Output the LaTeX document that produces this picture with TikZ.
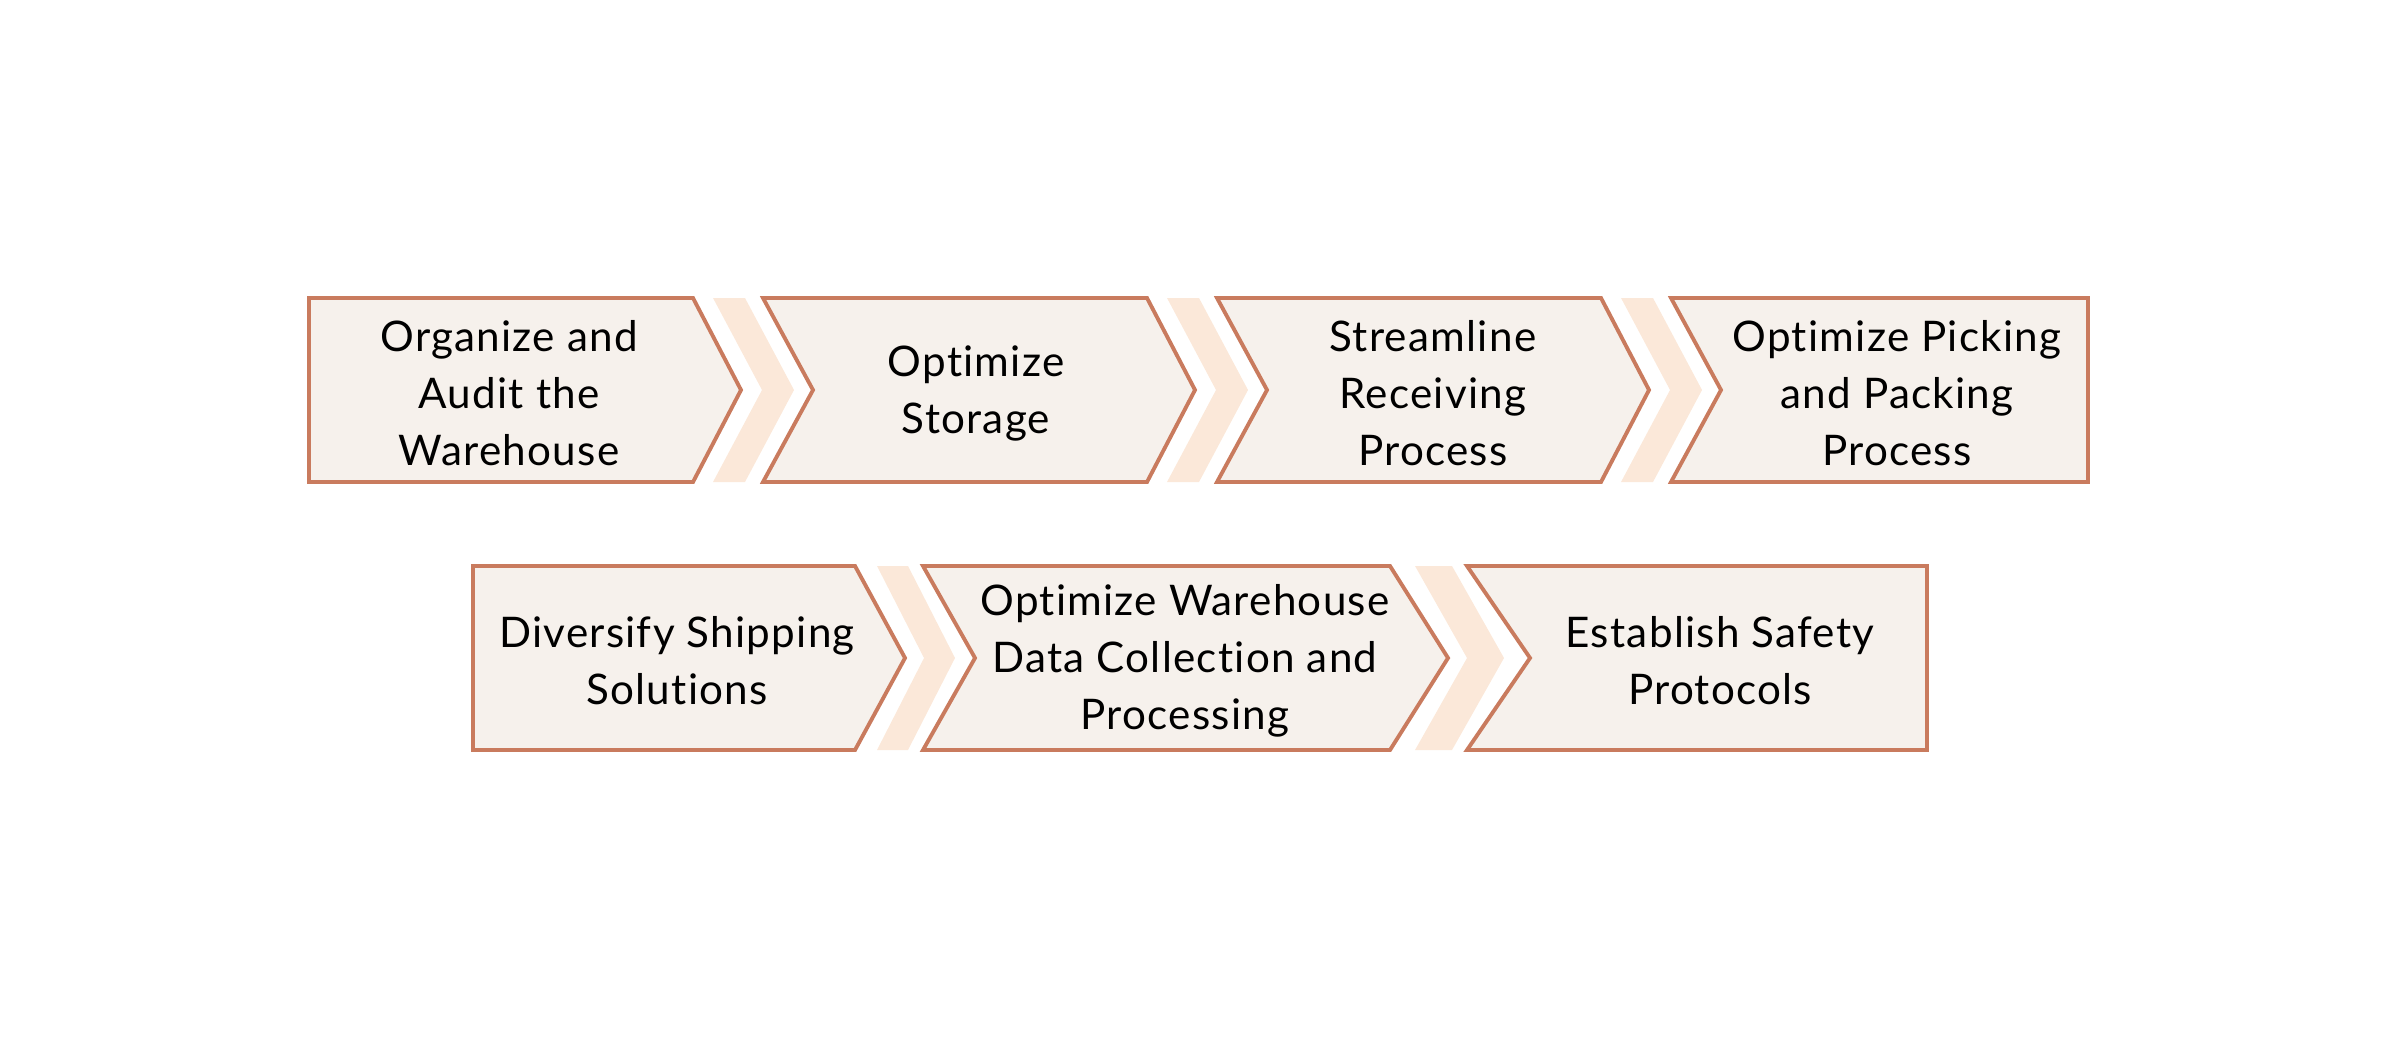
\documentclass[tikz,border=0pt]{standalone}
\usepackage{fontspec}
\setmainfont{Lato}[LetterSpace=3, Ligatures=NoCommon]
\definecolor{stepline}{HTML}{C97B5E}
\definecolor{stepfill}{HTML}{F6F1EC}
\definecolor{chevfill}{HTML}{FBE8D9}

\def \rowTop {7.52}
\def \rowMid {6.60}
\def \rowBot {5.68}
\def \rowTopB {4.84}
\def \rowMidB {3.92}
\def \rowBotB {3.00}
\def \textMid {6.57}
\def \textMidB {3.89}

\tikzset{
  stepshape/.style={draw=stepline, fill=stepfill, line width=1.1pt, line join=miter},
  chevshape/.style={fill=chevfill},
  steptext/.style={align=center, text=black, font=\fontsize{12}{16.2}\selectfont}
}

\begin{document}
\begin{tikzpicture}
         \useasboundingbox (0,0) rectangle (24,10.5);
         % first row
         \filldraw[stepshape] (3.09,\rowTop) -- (6.93,\rowTop) -- (7.41,\rowMid) -- (6.93,\rowBot) -- (3.09,\rowBot) -- cycle;
         \fill[chevshape] (7.13,\rowTop) -- (7.45,\rowTop) -- (7.94,\rowMid) -- (7.45,\rowBot) -- (7.13,\rowBot) -- (7.62,\rowMid) -- cycle;
         \filldraw[stepshape] (7.63,\rowTop) -- (11.47,\rowTop) -- (11.95,\rowMid) -- (11.47,\rowBot) -- (7.63,\rowBot) -- (8.13,\rowMid) -- cycle;
         \fill[chevshape] (11.67,\rowTop) -- (11.99,\rowTop) -- (12.48,\rowMid) -- (11.99,\rowBot) -- (11.67,\rowBot) -- (12.16,\rowMid) -- cycle;
         \filldraw[stepshape] (12.17,\rowTop) -- (16.01,\rowTop) -- (16.49,\rowMid) -- (16.01,\rowBot) -- (12.17,\rowBot) -- (12.67,\rowMid) -- cycle;
         \fill[chevshape] (16.21,\rowTop) -- (16.53,\rowTop) -- (17.02,\rowMid) -- (16.53,\rowBot) -- (16.21,\rowBot) -- (16.70,\rowMid) -- cycle;
         \filldraw[stepshape] (16.71,\rowTop) -- (20.88,\rowTop) -- (20.88,\rowBot) -- (16.71,\rowBot) -- (17.21,\rowMid) -- cycle;
         \node[steptext] (organize) at (5.09,\textMid) {Organize and\\Audit the\\Warehouse};
         \node[steptext] (storage) at (9.76,\textMid) {Optimize\\Storage};
         \node[steptext] (receiving) at (14.33,\textMid) {Streamline\\Receiving\\Process};
         \node[steptext] (picking) at (18.97,\textMid) {Optimize Picking\\and Packing\\Process};
         % second row
         \filldraw[stepshape] (4.73,\rowTopB) -- (8.55,\rowTopB) -- (9.05,\rowMidB) -- (8.55,\rowBotB) -- (4.73,\rowBotB) -- cycle;
         \fill[chevshape] (8.77,\rowTopB) -- (9.08,\rowTopB) -- (9.55,\rowMidB) -- (9.08,\rowBotB) -- (8.77,\rowBotB) -- (9.24,\rowMidB) -- cycle;
         \filldraw[stepshape] (9.23,\rowTopB) -- (13.90,\rowTopB) -- (14.48,\rowMidB) -- (13.90,\rowBotB) -- (9.23,\rowBotB) -- (9.75,\rowMidB) -- cycle;
         \fill[chevshape] (14.15,\rowTopB) -- (14.52,\rowTopB) -- (15.04,\rowMidB) -- (14.52,\rowBotB) -- (14.15,\rowBotB) -- (14.67,\rowMidB) -- cycle;
         \filldraw[stepshape] (14.67,\rowTopB) -- (19.27,\rowTopB) -- (19.27,\rowBotB) -- (14.67,\rowBotB) -- (15.30,\rowMidB) -- cycle;
         \node[steptext] (shipping) at (6.77,\textMidB) {Diversify Shipping\\Solutions};
         \node[steptext] (datacoll) at (11.85,\textMidB) {Optimize Warehouse\\Data Collection and\\Processing};
         \node[steptext] (safety) at (17.20,\textMidB) {Establish Safety\\Protocols};
      \end{tikzpicture}
\end{document}
